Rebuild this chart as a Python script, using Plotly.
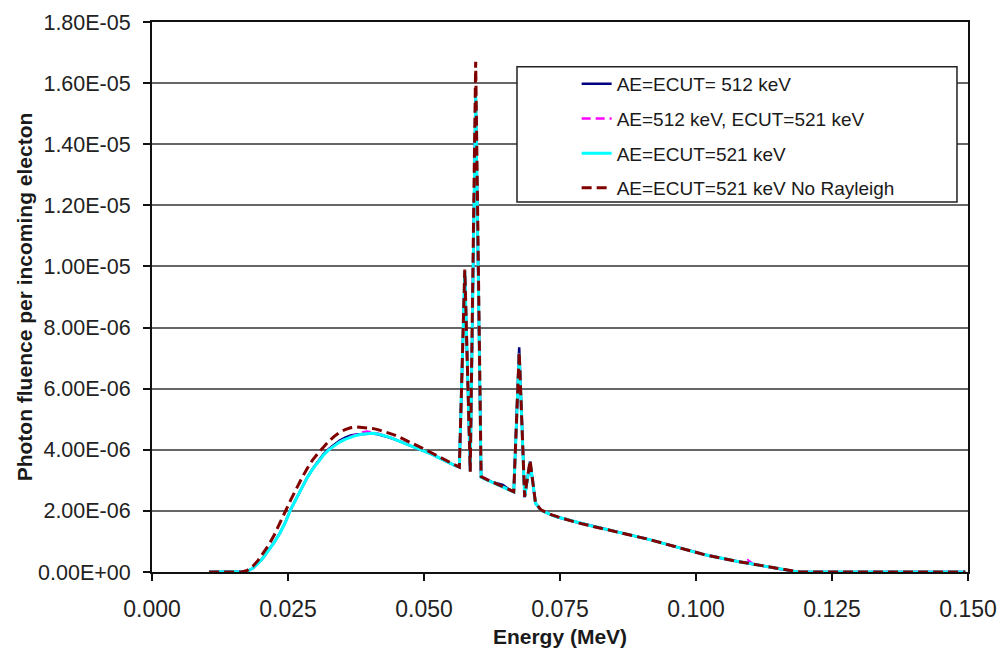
import plotly.graph_objects as go

# ---------------- data ----------------
energy = [round(0.0105 + 0.001 * i, 4) for i in range(140)]

# AE=ECUT=521 keV (reference curve), units of 1e-6
cyan_vals = [
    0, 0, 0, 0, 0, 0, 0,                      # 0.0105-0.0165
    0.02, 0.12, 0.28, 0.48, 0.72, 0.98, 1.27, 1.62, 2.05, 2.40, 2.76,   # 0.0175-0.0275
    3.08, 3.36, 3.60, 3.82, 4.00, 4.14, 4.25, 4.34, 4.41, 4.47,         # 0.0285-0.0375
    4.51, 4.53, 4.54, 4.52, 4.48, 4.42, 4.35, 4.28, 4.21, 4.14,         # 0.0385-0.0475
    4.07, 4.00, 3.93, 3.85, 3.76, 3.67, 3.58, 3.50, 3.43, 9.85,         # 0.0485-0.0575
    3.30, 15.6, 3.10, 3.02, 2.94, 2.86, 2.78, 2.70, 2.62, 7.15,         # 0.0585-0.0675
    2.45, 3.60, 2.25, 2.02, 1.93, 1.86, 1.80, 1.75, 1.70, 1.65,         # 0.0685-0.0775
    1.60, 1.56, 1.52, 1.48, 1.44, 1.40, 1.36, 1.32, 1.28, 1.24,         # 0.0785-0.0875
    1.20, 1.16, 1.11, 1.06, 1.01, 0.96, 0.91, 0.85, 0.80, 0.75,         # 0.0885-0.0975
    0.70, 0.65, 0.61, 0.57, 0.53, 0.49, 0.46, 0.42, 0.39, 0.35,         # 0.0985-0.1075
    0.32, 0.29, 0.26, 0.22, 0.19, 0.15, 0.12, 0.09, 0.06, 0.03,         # 0.1085-0.1175
    0.01, 0, 0, 0, 0, 0, 0, 0, 0, 0,                                     # 0.1185-0.1275
    0, 0, 0, 0, 0, 0, 0, 0, 0, 0,                                        # 0.1285-0.1375
    0, 0, 0, 0, 0, 0, 0, 0, 0, 0, 0, 0,                                  # 0.1385-0.1495
]

# AE=ECUT= 512 keV
navy_vals = [
    0, 0, 0, 0, 0, 0, 0,
    0.02, 0.12, 0.28, 0.48, 0.72, 0.98, 1.27, 1.62, 2.05, 2.40, 2.76,
    3.08, 3.37, 3.62, 3.85, 4.03, 4.18, 4.30, 4.40, 4.47, 4.50,
    4.51, 4.52, 4.53, 4.51, 4.47, 4.41, 4.35, 4.28, 4.21, 4.14,
    4.07, 4.00, 3.93, 3.85, 3.76, 3.67, 3.58, 3.50, 3.43, 9.80,
    3.30, 15.7, 3.10, 3.02, 2.95, 2.90, 2.85, 2.72, 2.62, 7.35,
    2.45, 3.62, 2.25, 2.02, 1.93, 1.86, 1.80, 1.75, 1.70, 1.65,
    1.60, 1.56, 1.52, 1.48, 1.44, 1.40, 1.36, 1.32, 1.28, 1.24,
    1.20, 1.16, 1.11, 1.06, 1.01, 0.96, 0.91, 0.85, 0.80, 0.75,
    0.70, 0.65, 0.61, 0.57, 0.53, 0.49, 0.46, 0.42, 0.39, 0.35,
    0.32, 0.29, 0.26, 0.22, 0.19, 0.15, 0.12, 0.09, 0.06, 0.03,
    0.01, 0, 0, 0, 0, 0, 0, 0, 0, 0,
    0, 0, 0, 0, 0, 0, 0, 0, 0, 0,
    0, 0, 0, 0, 0, 0, 0, 0, 0, 0, 0, 0,
]

# AE=512 keV, ECUT=521 keV
magenta_vals = [
    0, 0, 0, 0, 0, 0, 0,
    0.02, 0.12, 0.28, 0.48, 0.72, 0.98, 1.27, 1.62, 2.05, 2.40, 2.76,
    3.08, 3.36, 3.60, 3.82, 4.00, 4.14, 4.26, 4.36, 4.43, 4.50,
    4.56, 4.60, 4.57, 4.53, 4.48, 4.42, 4.36, 4.30, 4.22, 4.14,
    4.07, 4.00, 3.93, 3.85, 3.76, 3.67, 3.58, 3.50, 3.43, 9.85,
    3.30, 15.6, 3.12, 3.03, 2.95, 2.87, 2.78, 2.70, 2.62, 7.15,
    2.45, 3.60, 2.25, 2.02, 1.93, 1.86, 1.80, 1.75, 1.70, 1.65,
    1.60, 1.56, 1.53, 1.48, 1.44, 1.40, 1.36, 1.32, 1.28, 1.24,
    1.20, 1.16, 1.11, 1.06, 1.01, 0.96, 0.91, 0.85, 0.80, 0.75,
    0.70, 0.65, 0.61, 0.57, 0.53, 0.49, 0.46, 0.42, 0.39, 0.35,
    0.32, 0.39, 0.26, 0.22, 0.19, 0.15, 0.12, 0.09, 0.06, 0.03,
    0.01, 0, 0, 0, 0, 0, 0, 0, 0, 0,
    0, 0, 0, 0, 0, 0, 0, 0, 0, 0,
    0, 0, 0, 0, 0, 0, 0, 0, 0, 0, 0, 0,
]

# AE=ECUT=521 keV No Rayleigh
red_vals = [
    0, 0, 0, 0, 0, 0, 0,
    0.05, 0.18, 0.38, 0.62, 0.90, 1.22, 1.58, 1.98, 2.36, 2.72, 3.06,
    3.38, 3.66, 3.88, 4.08, 4.28, 4.44, 4.57, 4.66, 4.72, 4.75,
    4.74, 4.72, 4.70, 4.66, 4.61, 4.56, 4.49, 4.41, 4.33, 4.25,
    4.17, 4.07, 3.98, 3.89, 3.79, 3.70, 3.60, 3.51, 3.43, 9.90,
    3.28, 16.7, 3.12, 3.03, 2.95, 2.87, 2.79, 2.71, 2.63, 7.20,
    2.46, 3.65, 2.26, 2.03, 1.94, 1.87, 1.81, 1.75, 1.70, 1.65,
    1.60, 1.56, 1.52, 1.48, 1.44, 1.40, 1.36, 1.32, 1.28, 1.24,
    1.20, 1.16, 1.11, 1.06, 1.01, 0.96, 0.91, 0.85, 0.80, 0.75,
    0.70, 0.65, 0.61, 0.57, 0.53, 0.49, 0.46, 0.42, 0.39, 0.35,
    0.32, 0.29, 0.26, 0.22, 0.19, 0.15, 0.12, 0.09, 0.06, 0.035,
    0.015, 0, 0, 0, 0, 0, 0, 0, 0, 0,
    0, 0, 0, 0, 0, 0, 0, 0, 0, 0,
    0, 0, 0, 0, 0, 0, 0, 0, 0, 0, 0, 0,
]

series_names = [
    "AE=ECUT= 512 keV",
    "AE=512 keV, ECUT=521 keV",
    "AE=ECUT=521 keV",
    "AE=ECUT=521 keV No Rayleigh",
]

y_tick_vals = [0, 2e-6, 4e-6, 6e-6, 8e-6, 1e-5, 1.2e-5, 1.4e-5, 1.6e-5, 1.8e-5]
y_tick_text = ["0.00E+00", "2.00E-06", "4.00E-06", "6.00E-06", "8.00E-06",
               "1.00E-05", "1.20E-05", "1.40E-05", "1.60E-05", "1.80E-05"]
x_tick_vals = [0.0, 0.025, 0.05, 0.075, 0.1, 0.125, 0.15]
x_tick_text = ["0.000", "0.025", "0.050", "0.075", "0.100", "0.125", "0.150"]

x_title = "Energy (MeV)"
y_title = "Photon fluence per incoming electon"

# ---------------- figure ----------------
FONT = "Arial, 'Liberation Sans', sans-serif"

def scale(vals):
    return [v * 1e-6 for v in vals]

styles = [
    dict(color="#000080", width=2.5, dash="solid"),
    dict(color="#FF00FF", width=2.5, dash="9px,5px"),
    dict(color="#00FFFF", width=3, dash="solid"),
    dict(color="#800000", width=3, dash="10px,5px"),
]
all_vals = [navy_vals, magenta_vals, cyan_vals, red_vals]

fig = go.Figure()
for i, (name, vals, st) in enumerate(zip(series_names, all_vals, styles)):
    fig.add_trace(go.Scatter(
        x=energy, y=scale(vals), mode="lines", name=name,
        line=st, legendgroup=f"g{i}",
    ))

fig.update_layout(
    width=1002, height=648,
    margin=dict(l=152, r=34, t=22, b=76, autoexpand=False),
    paper_bgcolor="white", plot_bgcolor="white",
    font=dict(family=FONT, color="#1a1a1a"),
    showlegend=True,
    legend=dict(
        x=0.5204, xanchor="left", y=0.922, yanchor="top",
        bgcolor="rgba(0,0,0,0)", borderwidth=0,
        font=dict(family=FONT, size=19, color="#1a1a1a"),
        tracegroupgap=7, itemwidth=30,
    ),
    shapes=[dict(
        type="rect", xref="paper", yref="paper",
        x0=0.4473, x1=0.9865, y0=0.6727, y1=0.9187,
        line=dict(color="#222222", width=1.5),
        fillcolor="white", layer="above",
    )],
)

fig.update_xaxes(
    range=[0, 0.15], tickvals=x_tick_vals, ticktext=x_tick_text,
    showgrid=False, zeroline=False,
    showline=True, linecolor="#111111", linewidth=2, mirror=True,
    ticks="outside", ticklen=7, tickwidth=2, tickcolor="#111111",
    ticklabelstandoff=8,
    tickfont=dict(family=FONT, size=23, color="#222222"),
    title=dict(text=f"<b>{x_title}</b>", font=dict(family=FONT, size=21, color="#1a1a1a"),
               standoff=12),
)
fig.update_yaxes(
    range=[0, 1.8e-5], tickvals=y_tick_vals, ticktext=y_tick_text,
    showgrid=True, gridcolor="#666666", gridwidth=1.5, zeroline=False,
    showline=True, linecolor="#111111", linewidth=2, mirror=True,
    ticks="outside", ticklen=7, tickwidth=2, tickcolor="#111111",
    ticklabelstandoff=8,
    tickfont=dict(family=FONT, size=21.5, color="#222222"),
    title=dict(text=f"<b>{y_title}</b>", font=dict(family=FONT, size=21, color="#1a1a1a"),
               standoff=0),
)

fig.write_html(
    "out.html",
    config={"displayModeBar": False},
    post_script="document.body.style.margin='0';document.body.style.overflow='hidden';",
)
